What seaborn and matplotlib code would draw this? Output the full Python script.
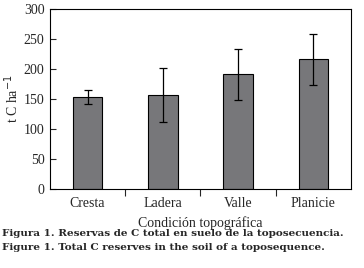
import numpy as np
import matplotlib
matplotlib.use("Agg")
import matplotlib.pyplot as plt
import seaborn as sns
import pandas as pd

# data
condiciones = ["Cresta", "Ladera", "Valle", "Planicie"]
reservas = [153, 157, 191, 216]
error = [12, 45, 43, 43]

df = pd.DataFrame({"condicion": condiciones, "reserva": reservas})

sns.set_style("ticks")
plt.rcParams['font.family'] = ['Liberation Serif', 'DejaVu Serif']

fig = plt.figure(figsize=(3.64, 2.68), dpi=100)
ax = fig.add_axes([50 / 364, 1 - 189 / 268, 301 / 364, 180 / 268])

sns.barplot(data=df, x="condicion", y="reserva", color="#77777a",
            edgecolor="black", linewidth=0.8, width=0.39, ax=ax)
ax.errorbar(np.arange(len(condiciones)), reservas, yerr=error, fmt="none",
            ecolor="black", elinewidth=0.9, capsize=3, capthick=0.9)

ax.set_xlim(-0.5, 3.5)
ax.set_ylim(0, 300)
ax.set_yticks([0, 50, 100, 150, 200, 250, 300])
ax.tick_params(axis="y", length=4, width=0.8, direction="in", labelsize=10, pad=4)
# ticks sit between the categories, labels under the bars
ax.set_xticks([0.5, 1.5, 2.5])
ax.set_xticklabels([])
ax.set_xticks(np.arange(len(condiciones)), minor=True)
ax.set_xticklabels(condiciones, minor=True)
ax.tick_params(axis="x", which="major", length=5, width=0.8, direction="out")
ax.tick_params(axis="x", which="minor", length=0, labelsize=10, pad=6)

ax.set_xlabel("Condición topográfica", fontsize=10, labelpad=4)
ax.set_ylabel("t C ha$^{-1}$", fontsize=10)
ax.yaxis.set_label_coords(-29 / 301, 0.5)
for s in ax.spines.values():
    s.set_linewidth(0.8)
    s.set_color("black")

fig.text(2 / 364, 1 - 234 / 268, "Figura 1. Reservas de C total en suelo de la toposecuencia.",
         fontsize=7.5, fontweight="bold", family="DejaVu Serif", va="center", ha="left")
fig.text(2 / 364, 1 - 247 / 268, "Figure 1. Total C reserves in the soil of a toposequence.",
         fontsize=7.5, fontweight="bold", family="DejaVu Serif", va="center", ha="left")

fig.savefig("out.png", dpi=100)
